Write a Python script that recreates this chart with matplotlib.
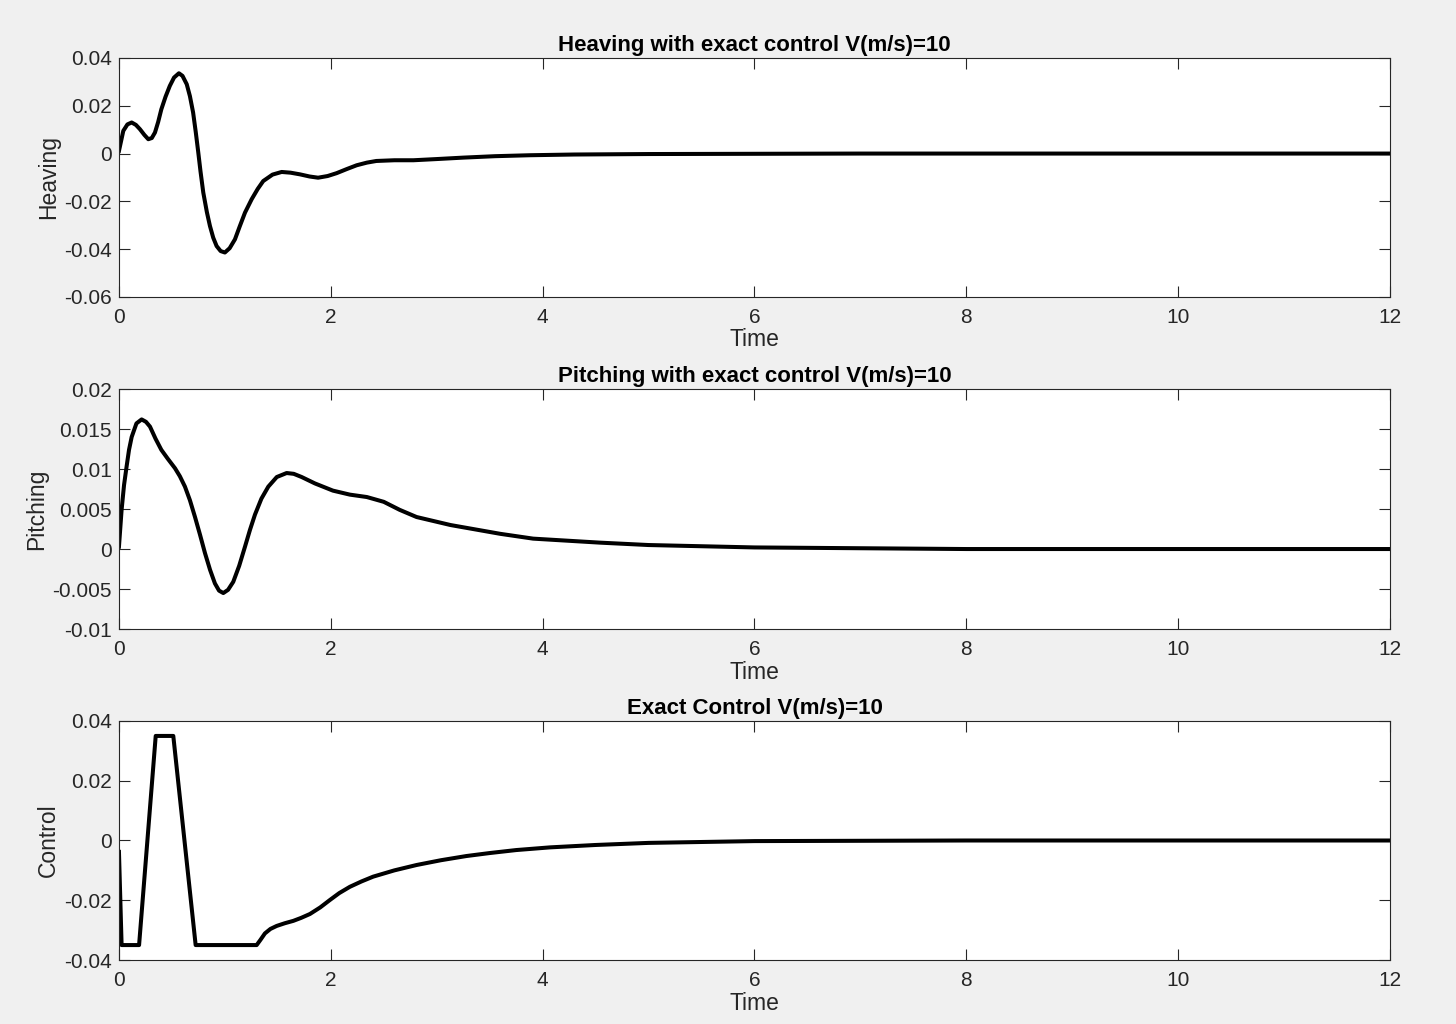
import numpy as np
import matplotlib
matplotlib.use('Agg')
import matplotlib.pyplot as plt

# values
t_heave = [0, 0.041, 0.08, 0.12, 0.16, 0.198, 0.24, 0.277, 0.31, 0.34, 0.37, 0.40, 0.44, 0.48,
           0.52, 0.566, 0.60, 0.64, 0.67, 0.70, 0.725, 0.749, 0.77, 0.796, 0.83, 0.859, 0.89,
           0.922, 0.96, 1.0, 1.045, 1.095, 1.14, 1.19, 1.253, 1.31, 1.362, 1.45, 1.536, 1.62,
           1.709, 1.80, 1.88, 1.97, 2.055, 2.15, 2.244, 2.34, 2.43, 2.6, 2.78, 3.0, 3.25, 3.55,
           3.88, 4.3, 5.0, 6.0, 7.0, 8.0, 10.0, 12.0]
heaving = [0.0011, 0.0095, 0.0122, 0.0130, 0.0120, 0.0102, 0.0078, 0.0060, 0.0065, 0.0088, 0.0132,
           0.0185, 0.0238, 0.0283, 0.0318, 0.0336, 0.0325, 0.0290, 0.0240, 0.0172, 0.0090, 0.0004,
           -0.0075, -0.0163, -0.0245, -0.0303, -0.0352, -0.0387, -0.0408, -0.0414, -0.0396, -0.0359,
           -0.0305, -0.0247, -0.0191, -0.0148, -0.0115, -0.0088, -0.0077, -0.0080, -0.0087, -0.0096,
           -0.0101, -0.0094, -0.0082, -0.0065, -0.0049, -0.0038, -0.0031, -0.0028, -0.0028, -0.0023,
           -0.0017, -0.0011, -0.0007, -0.0004, -0.0002, -0.0001, 0.0, 0.0, 0.0, 0.0]

t_pitch = [0, 0.025, 0.048, 0.072, 0.095, 0.12, 0.165, 0.214, 0.255, 0.293, 0.345, 0.40, 0.46,
           0.529, 0.575, 0.623, 0.67, 0.718, 0.765, 0.812, 0.86, 0.906, 0.945, 0.985, 1.03, 1.079,
           1.135, 1.19, 1.237, 1.284, 1.345, 1.41, 1.49, 1.583, 1.65, 1.725, 1.85, 2.02, 2.18,
           2.34, 2.50, 2.65, 2.81, 3.13, 3.6, 3.91, 4.54, 5.0, 6.0, 7.0, 8.0, 10.0, 12.0]
pitching = [0.0003, 0.0049, 0.0080, 0.0103, 0.0124, 0.0140, 0.0157, 0.0162, 0.0159, 0.0153, 0.0138,
            0.0124, 0.0113, 0.0101, 0.0091, 0.0078, 0.0061, 0.0040, 0.0018, -0.0005, -0.0026,
            -0.0043, -0.0052, -0.0055, -0.0051, -0.0041, -0.0021, 0.0003, 0.0024, 0.0043, 0.0063,
            0.0078, 0.0090, 0.0095, 0.0094, 0.0090, 0.0082, 0.0073, 0.0068, 0.0065, 0.0059, 0.0049,
            0.0040, 0.0030, 0.0019, 0.0013, 0.0008, 0.0005, 0.0002, 0.0001, 0.0, 0.0, 0.0]

t_ctrl = [0, 0.025, 0.19, 0.347, 0.513, 0.724, 1.30, 1.335, 1.378, 1.43, 1.489, 1.565, 1.646,
          1.72, 1.803, 1.90, 1.992, 2.08, 2.18, 2.29, 2.40, 2.6, 2.81, 3.04, 3.28, 3.5, 3.75,
          4.07, 4.5, 5.0, 6.0, 7.0, 8.0, 10.0, 12.0]
control = [-0.0038, -0.035, -0.035, 0.035, 0.035, -0.035, -0.035, -0.0333, -0.0311, -0.0296, -0.0286,
           -0.0277, -0.0269, -0.0259, -0.0246, -0.0224, -0.0199, -0.0176, -0.0155, -0.0137, -0.0121,
           -0.0100, -0.0082, -0.0066, -0.0052, -0.0042, -0.0032, -0.0023, -0.0015, -0.0008, -0.0002,
           -0.0001, 0.0, 0.0, 0.0]

x_ticks = [0, 2, 4, 6, 8, 10, 12]
heave_ticks = [-0.06, -0.04, -0.02, 0, 0.02, 0.04]
heave_labels = ['-0.06', '-0.04', '-0.02', '0', '0.02', '0.04']
pitch_ticks = [-0.01, -0.005, 0, 0.005, 0.01, 0.015, 0.02]
pitch_labels = ['-0.01', '-0.005', '0', '0.005', '0.01', '0.015', '0.02']
ctrl_ticks = [-0.04, -0.02, 0, 0.02, 0.04]
ctrl_labels = ['-0.04', '-0.02', '0', '0.02', '0.04']

plt.rcParams['font.family'] = ['Liberation Sans', 'DejaVu Sans']
plt.rcParams['axes.unicode_minus'] = False

fig = plt.figure(figsize=(14.56, 10.24), dpi=100, facecolor='#f0f0f0')
grey = '#262626'

panels = [
    ([0.0817, 0.7100, 0.8730, 0.2334], t_heave, heaving, heave_ticks, heave_labels,
     'Heaving', 'Heaving with exact control V(m/s)=10'),
    ([0.0817, 0.3857, 0.8730, 0.2344], t_pitch, pitching, pitch_ticks, pitch_labels,
     'Pitching', 'Pitching with exact control V(m/s)=10'),
    ([0.0817, 0.0625, 0.8730, 0.2334], t_ctrl, control, ctrl_ticks, ctrl_labels,
     'Control', 'Exact Control V(m/s)=10'),
]

for pos, tx, yv, yt, yl, ylab, title in panels:
    ax = fig.add_axes(pos)
    ax.plot(tx, yv, color='black', lw=2.9, solid_joinstyle='round')
    ax.set_xlim(0, 12)
    ax.set_ylim(yt[0], yt[-1])
    ax.set_xticks(x_ticks)
    ax.set_xticklabels([str(v) for v in x_ticks])
    ax.set_yticks(yt)
    ax.set_yticklabels(yl)
    ax.tick_params(direction='in', length=8, width=0.8, colors=grey, labelsize=15,
                   top=True, right=True, pad=5)
    ax.tick_params(axis='x', pad=8)
    for s in ax.spines.values():
        s.set_color(grey)
        s.set_linewidth(0.8)
    ax.set_xlabel('Time', fontsize=16.5, color=grey, labelpad=1)
    ax.set_ylabel(ylab, fontsize=16.5, color=grey, labelpad=3)
    ax.set_title(title, fontsize=16, fontweight='bold', pad=5)

fig.savefig('out.png', dpi=100, facecolor=fig.get_facecolor())
